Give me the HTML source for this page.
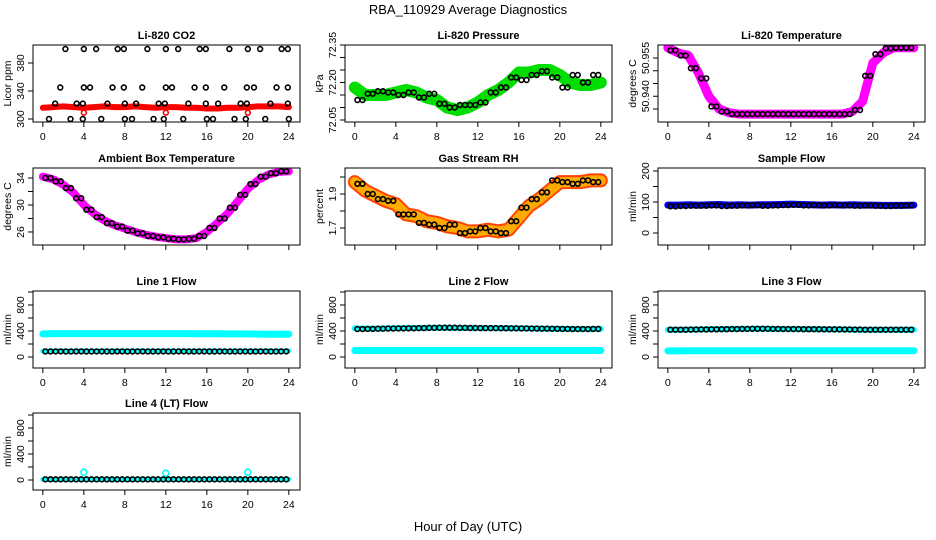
<!DOCTYPE html>
<html><head><meta charset="utf-8"><style>
body{margin:0;background:#fff;}
svg{display:block;font-family:"Liberation Sans",sans-serif;}
</style></head><body>
<svg id="c" width="936" height="540" viewBox="0 0 936 540">
<text x="468" y="14" text-anchor="middle" font-size="13">RBA_110929  Average Diagnostics</text>
<text x="468" y="531" text-anchor="middle" font-size="13">Hour of Day (UTC)</text>
</svg>
<script>
// ---- data ----
const hoursA = [0,1,2,3,4,5,6,7,8,9,10,11,12,13,14,15,16,17,18,19,20,21,22,23,24];
const hoursB = [0.5,1.5,2.5,3.5,4.5,5.5,6.5,7.5,8.5,9.5,10.5,11.5,12.5,13.5,14.5,15.5,16.5,17.5,18.5,19.5,20.5,21.5,22.5,23.5];
const xTicks = [0,4,8,12,16,20,24];

const co2Red = [316,317,318,317,316,317,318,317,317,318,317,316,317,317,316,316,315,315,316,316,317,318,318,318,317];
const co2BlackHours = [2.2,4.0,5.2,7.3,7.9,10.2,12.0,13.2,15.3,15.9,18.2,20.0,21.2,23.3,23.9,1.7,4.0,4.6,6.8,7.9,9.7,12.0,12.6,14.8,15.9,17.7,19.9,20.6,22.8,23.9,1.2,3.3,3.9,6.3,8.0,9.1,11.3,11.9,14.2,15.9,17.1,19.3,19.9,22.2,23.9,0.6,2.7,3.9,5.7,8.0,8.7,10.8,11.8,13.7,16.0,16.6,18.7,19.8,21.7,24.0];
const co2BlackVals = [400,400,400,400,400,400,400,400,400,400,400,400,400,400,400,345,345,345,345,345,345,345,345,345,345,345,345,345,345,345,322,322,322,322,322,322,322,322,322,322,322,322,322,322,322,300,300,300,300,300,300,300,300,300,300,300,300,300,300,300];

const presGreen = [72.18,72.15,72.15,72.15,72.16,72.17,72.16,72.14,72.13,72.10,72.09,72.10,72.12,72.15,72.17,72.20,72.24,72.24,72.25,72.25,72.23,72.20,72.19,72.19,72.20];
const presBlack = [72.13,72.155,72.165,72.16,72.15,72.16,72.14,72.155,72.115,72.10,72.11,72.11,72.12,72.16,72.18,72.22,72.21,72.23,72.245,72.22,72.18,72.23,72.20,72.23];

const tempMag = [50.959,50.957,50.956,50.949,50.940,50.935,50.9335,50.933,50.933,50.933,50.933,50.933,50.933,50.933,50.933,50.933,50.933,50.933,50.934,50.938,50.953,50.957,50.959,50.959,50.959];
const tempBlack = [50.958,50.956,50.951,50.947,50.936,50.934,50.933,50.933,50.933,50.933,50.933,50.933,50.933,50.933,50.933,50.933,50.933,50.933,50.9346,50.948,50.9565,50.9588,50.959,50.959];

const ambMag = [34.2,33.8,33.0,31.8,30.0,28.7,27.7,27.0,26.5,26.0,25.6,25.3,25.1,24.9,24.9,25.1,26.0,27.3,28.7,30.5,32.4,33.7,34.5,34.9,35.0];
const ambBlack = [34.0,33.5,32.5,31.0,29.3,28.2,27.3,26.8,26.2,25.8,25.4,25.2,25.0,24.9,25.0,25.4,26.6,28.0,29.6,31.5,33.1,34.2,34.7,35.0];

const rhOrange = [1.97,1.92,1.89,1.86,1.84,1.78,1.77,1.74,1.73,1.71,1.70,1.68,1.68,1.69,1.68,1.69,1.76,1.83,1.87,1.92,1.97,1.97,1.97,1.98,1.98];
const rhBlack = [1.96,1.90,1.87,1.86,1.78,1.78,1.73,1.72,1.70,1.72,1.67,1.68,1.70,1.68,1.67,1.74,1.82,1.87,1.91,1.98,1.97,1.96,1.98,1.97];

const sampleBlue = [90,90,91,90,91,92,90,91,90,91,91,92,93,92,91,90,91,90,91,90,90,89,89,89,90];
const sampleBlack = [86,87,88,88,89,87,88,89,90,88,89,90,91,89,90,89,90,89,88,89,88,87,88,89];

const l1CyanHigh = [355,360,360,360,360,360,360,360,360,360,360,360,360,360,360,358,358,358,356,356,355,352,350,350,352];
const l1CyanLow = [90,92,92,92,92,92,92,92,92,92,92,92,92,92,92,92,92,92,92,92,92,92,92,92,92];
const l1Black = [85,86,85,86,85,86,85,86,85,86,85,86,85,86,85,86,85,86,85,86,85,86,85,86];

const l2CyanHigh = [440,436,436,440,442,445,447,448,450,450,448,446,445,444,443,442,440,438,436,434,432,430,430,428,432];
const l2CyanLow = [100,100,100,100,100,100,100,100,100,100,100,100,100,100,100,100,100,100,100,100,100,100,100,100,100];
const l2Black = [430,432,435,438,440,442,445,448,450,450,448,446,445,444,443,442,440,438,436,434,432,430,430,432];

const l3CyanHigh = [420,420,422,424,426,428,430,432,434,434,432,430,430,428,428,426,425,424,422,420,420,420,420,420,420];
const l3CyanLow = [95,95,96,96,96,96,96,96,96,96,96,96,96,96,96,96,96,96,96,96,96,96,96,96,96];
const l3Black = [420,420,422,424,426,428,430,432,434,434,432,430,430,428,428,426,425,424,422,420,420,420,420,420];

const l4Cyan = [10,10,10,10,10,10,10,10,10,10,10,10,10,10,10,10,10,10,10,10,10,10,10,10,10];
const l4OutHours = [4,12,20];
const l4OutVals = [120,105,120];
const l4Black = [10,10,10,10,10,10,10,10,10,10,10,10,10,10,10,10,10,10,10,10,10,10,10,10];

const presLabels = ['72.05','72.20','72.35'];
const tempLabels = ['50.940','50.955'];

// ---- layout ----
const svg = document.getElementById('c');
const NS = 'http://www.w3.org/2000/svg';
const colLeft = [33,345,658];
const rowTB = [[45,122],[168,245],[291,368],[413,490]];
function mk(tag, attrs, parent){ const e=document.createElementNS(NS,tag); for(const k in attrs) e.setAttribute(k,attrs[k]); (parent||svg).appendChild(e); return e; }

function panel(name, title, col, row, ylim, yTicks, yLabels, yTitle, draw){
  const g = mk('g',{});
  
  
  const L = colLeft[col], R = L+267, T = rowTB[row][0], B = rowTB[row][1];
  const xs = h => L + 9.84 + h*10.25;
  const ys = v => B - (v-ylim[0])/(ylim[1]-ylim[0])*(B-T);
  const t = mk('text',{x:(L+R)/2,y:T-6,'text-anchor':'middle','font-size':11,'font-weight':'bold'},g);
  t.textContent = title;
  
  
  const clip = mk('clipPath',{id:'cp'+name},g);
  mk('rect',{x:L,y:T,width:R-L,height:B-T},clip);
  const pg = mk('g',{'clip-path':'url(#cp'+name+')'},g);
  draw(pg, xs, ys);
  const box = mk('rect',{x:L,y:T,width:R-L,height:B-T,fill:'none',stroke:'#000','stroke-width':1},g);
  
  
  xTicks.forEach(h=>{ mk('line',{x1:xs(h),x2:xs(h),y1:B,y2:B+5,stroke:'#000'},g); });
  const showX = (row!==1);
  if(showX){ xTicks.forEach(h=>{
    const lt = mk('text',{x:xs(h),y:B+18,'text-anchor':'middle','font-size':10.5},g);
    lt.textContent = h;
    
    
  });}
  yTicks.forEach(v=>{ mk('line',{x1:L-5,x2:L,y1:ys(v),y2:ys(v),stroke:'#000'},g); });
  yLabels.forEach(v=>{
    const yy = ys(parseFloat(v));
    const lt = mk('text',{x:L-9,y:yy,'text-anchor':'middle','font-size':10.5,transform:`rotate(-90 ${L-9} ${yy})`},g);
    lt.textContent = String(v);
    
    
  });
  const yt = mk('text',{x:L-22,y:(T+B)/2,'text-anchor':'middle','font-size':10.5,transform:`rotate(-90 ${L-22} ${(T+B)/2})`},g);
  yt.textContent = yTitle;
  
  
}
function band(g, xs, ys, hrs, vals, color, w){
  const p = mk('polyline',{points:hrs.map((h,i)=>xs(h)+','+ys(vals[i])).join(' '),fill:'none',stroke:color,'stroke-width':w,'stroke-linejoin':'round','stroke-linecap':'round'},g);
  
  
}
function circles(g, xs, ys, hrs, vals, color, r){
  hrs.forEach((h,i)=>{
    const c = mk('circle',{cx:xs(h),cy:ys(vals[i]),r:r||2.4,fill:'none',stroke:color||'#000','stroke-width':1.6},g);
    
    
  });
}
function halfSteps(g, xs, ys, hrs, vals){
  circles(g, xs, ys, hrs, vals);
  circles(g, xs, ys, hrs.map(h=>h+0.5), vals);
}
const flowTicks=[0,200,400,600,800,1000], flowLabels=[0,400,800];

panel('co2-panel','Li-820 CO2',0,0,[295.7,405.7],[300,340,380],[300,340,380],'Licor ppm',(g,xs,ys)=>{
  band(g,xs,ys,hoursA,co2Red,'#ff0000',6);
  circles(g,xs,ys,co2BlackHours,co2BlackVals);
  circles(g,xs,ys,[4,12,20],[309,309,309],'#ff0000');
});
panel('pressure-panel','Li-820 Pressure',1,0,[72.042,72.35],[72.05,72.10,72.15,72.20,72.25,72.30,72.35],presLabels,'kPa',(g,xs,ys)=>{
  band(g,xs,ys,hoursA,presGreen,'#00dd00',12);
  halfSteps(g,xs,ys,hoursB.map(h=>h-0.25),presBlack);
});
panel('temperature-panel','Li-820 Temperature',2,0,[50.9299,50.9601],[50.935,50.940,50.945,50.950,50.955],tempLabels,'degrees C',(g,xs,ys)=>{
  band(g,xs,ys,hoursA,tempMag,'#ff00ff',9);
  halfSteps(g,xs,ys,hoursB.map(h=>h-0.25),tempBlack);
});
panel('ambient-panel','Ambient Box Temperature',0,1,[24.07,35.48],[26,28,30,32,34],[26,30,34],'degrees C',(g,xs,ys)=>{
  band(g,xs,ys,hoursA,ambMag,'#ff00ff',8);
  halfSteps(g,xs,ys,hoursB.map(h=>h-0.25),ambBlack);
});
panel('rh-panel','Gas Stream RH',1,1,[1.6,2.053],[1.7,1.8,1.9,2.0],[1.7,1.9],'percent',(g,xs,ys)=>{
  band(g,xs,ys,hoursA,rhOrange,'#ff4400',14);
  band(g,xs,ys,hoursA,rhOrange,'#ffaa00',10);
  halfSteps(g,xs,ys,hoursB.map(h=>h-0.25),rhBlack);
});
panel('sample-flow-panel','Sample Flow',2,1,[-38.7,209.7],[0,50,100,150,200],[0,100,200],'ml/min',(g,xs,ys)=>{
  band(g,xs,ys,hoursA,sampleBlue,'#0000ee',7);
  halfSteps(g,xs,ys,hoursB.map(h=>h-0.25),sampleBlack);
});
panel('line1-panel','Line 1 Flow',0,2,[-169,1015],flowTicks,flowLabels,'ml/min',(g,xs,ys)=>{
  band(g,xs,ys,hoursA,l1CyanHigh,'#00ffff',7);
  band(g,xs,ys,hoursA,l1CyanLow,'#00ffff',5);
  halfSteps(g,xs,ys,hoursB.map(h=>h-0.25),l1Black);
});
panel('line2-panel','Line 2 Flow',1,2,[-169,1015],flowTicks,flowLabels,'ml/min',(g,xs,ys)=>{
  band(g,xs,ys,hoursA,l2CyanHigh,'#00ffff',6);
  band(g,xs,ys,hoursA,l2CyanLow,'#00ffff',7);
  halfSteps(g,xs,ys,hoursB.map(h=>h-0.25),l2Black);
});
panel('line3-panel','Line 3 Flow',2,2,[-169,1015],flowTicks,flowLabels,'ml/min',(g,xs,ys)=>{
  band(g,xs,ys,hoursA,l3CyanHigh,'#00ffff',6);
  band(g,xs,ys,hoursA,l3CyanLow,'#00ffff',7);
  halfSteps(g,xs,ys,hoursB.map(h=>h-0.25),l3Black);
});
panel('line4-panel','Line 4 (LT) Flow',0,3,[-154,1031],flowTicks,flowLabels,'ml/min',(g,xs,ys)=>{
  band(g,xs,ys,hoursA,l4Cyan,'#00ffff',5);
  circles(g,xs,ys,l4OutHours,l4OutVals,'#00ffff',3);
  halfSteps(g,xs,ys,hoursB.map(h=>h-0.25),l4Black);
});
</script>
</body></html>
